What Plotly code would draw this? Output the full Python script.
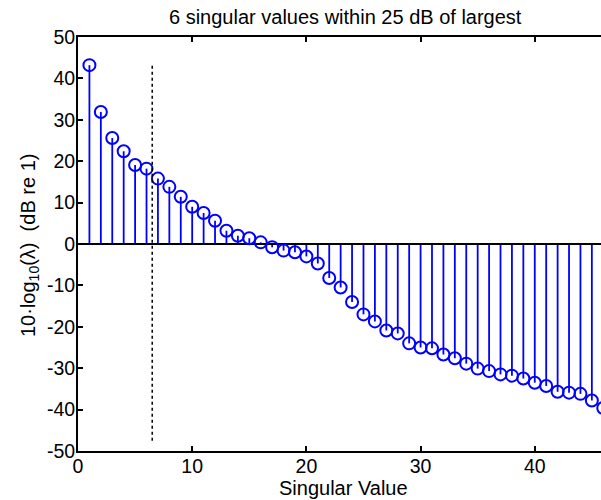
import plotly.graph_objects as go

# ---- data ----
index = list(range(1, 47))
db_values = [43.2, 31.9, 25.6, 22.4, 19.1, 18.2, 15.8, 13.8, 11.4, 9.0,
             7.5, 5.6, 3.2, 2.0, 1.4, 0.4, -0.8, -1.6, -2.0, -3.0,
             -4.7, -8.2, -10.5, -14.0, -17.0, -18.7, -20.9, -21.6, -24.0, -25.0,
             -25.2, -26.7, -27.6, -28.9, -30.1, -30.7, -31.5, -31.8, -32.5, -33.5,
             -34.3, -35.7, -35.9, -36.2, -37.8, -39.6]
threshold_x = [6.5, 6.5]
threshold_y = [-47.5, 43.4]
x_ticks = [0, 10, 20, 30, 40]
y_ticks = [-50, -40, -30, -20, -10, 0, 10, 20, 30, 40, 50]
y_tick_labels = ["-50", "-40", "-30", "-20", "-10", "0", "10", "20", "30", "40", "50"]
x_range = [0, 45.8]
y_range = [-50, 50]
title_text = "6 singular values within 25 dB of largest"
x_title = "Singular Value"
y_title = "10·log<sub>10</sub>(λ)  (dB re 1)"

BLUE = "#0000ff"
FONT = "Liberation Sans, Arial, Helvetica, sans-serif"
TICK_SIZE = 19.5
LABEL_SIZE = 20

# stems
sx, sy = [], []
for xi, yi in zip(index, db_values):
    sx += [xi, xi, None]
    sy += [0, yi, None]

fig = go.Figure()
fig.add_trace(go.Scatter(x=sx, y=sy, mode="lines",
                         line=dict(color=BLUE, width=1.8), hoverinfo="skip"))
fig.add_trace(go.Scatter(x=[x_range[0], x_range[1]], y=[0, 0], mode="lines",
                         line=dict(color="black", width=1.8), hoverinfo="skip"))
fig.add_trace(go.Scatter(x=index, y=db_values, mode="markers",
                         marker=dict(symbol="circle-open", size=12, color=BLUE,
                                     line=dict(color=BLUE, width=2))))
fig.add_trace(go.Scatter(x=threshold_x, y=threshold_y, mode="lines",
                         line=dict(color="black", width=1.5, dash="dot"),
                         hoverinfo="skip"))

L, R, T, B = 78, 0, 37, 49
W, H = 601, 500
pw = W - L - R
ph = H - T - B

def px2paper_x(px):
    return (px - L) / pw

def py2paper_y(py):
    return (H - B - py) / ph

fig.update_layout(
    width=W, height=H,
    margin=dict(l=L, r=R, t=T, b=B, pad=0),
    paper_bgcolor="white", plot_bgcolor="white",
    showlegend=False,
    font=dict(family=FONT, size=TICK_SIZE, color="black"),
    xaxis=dict(range=x_range, tickmode="array", tickvals=x_ticks,
               ticks="inside", ticklen=5, tickwidth=1.5, tickcolor="black",
               showline=True, linecolor="black", linewidth=2, mirror="ticks",
               showgrid=False, zeroline=False, ticklabelstandoff=-3,
               tickfont=dict(family=FONT, size=TICK_SIZE, color="black")),
    yaxis=dict(range=y_range, tickmode="array", tickvals=y_ticks,
               ticktext=y_tick_labels,
               ticks="inside", ticklen=5, tickwidth=1.5, tickcolor="black",
               showline=True, linecolor="black", linewidth=2,
               showgrid=False, zeroline=False, ticklabelstandoff=-3,
               tickfont=dict(family=FONT, size=TICK_SIZE, color="black")),
    annotations=[
        dict(text=title_text, xref="paper", yref="paper",
             x=px2paper_x(345), y=py2paper_y(17), xanchor="center", yanchor="middle",
             showarrow=False, font=dict(family=FONT, size=LABEL_SIZE, color="black")),
        dict(text=x_title, xref="paper", yref="paper",
             x=px2paper_x(343), y=py2paper_y(488), xanchor="center", yanchor="middle",
             showarrow=False, font=dict(family=FONT, size=LABEL_SIZE, color="black")),
        dict(text=y_title, xref="paper", yref="paper",
             x=px2paper_x(29), y=py2paper_y(246), xanchor="center", yanchor="middle",
             textangle=-90, showarrow=False,
             font=dict(family=FONT, size=LABEL_SIZE, color="black")),
    ],
)

fig.write_html("out.html")
